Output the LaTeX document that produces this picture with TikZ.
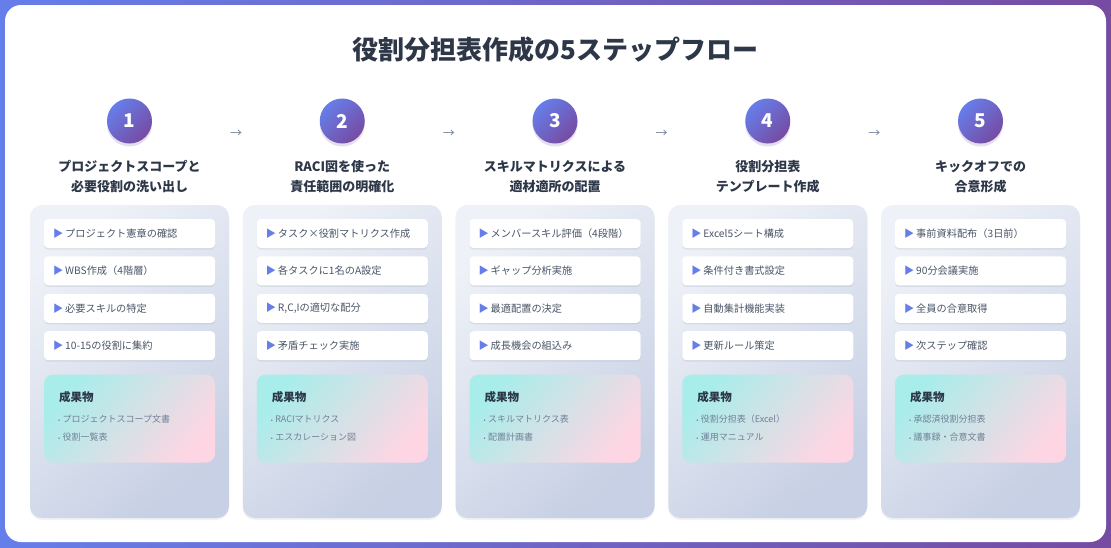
\documentclass[tikz,border=0pt]{standalone}
\usepackage{fontspec}
\setmainfont{Noto Sans CJK JP}
\usetikzlibrary{positioning,shadows}

\definecolor{brandblue}{HTML}{667EEA}
\definecolor{brandpurple}{HTML}{764BA2}
\definecolor{inkdark}{HTML}{2D3748}
\definecolor{inkgray}{HTML}{4A5568}
\definecolor{inklight}{HTML}{718096}
\definecolor{cardtop}{HTML}{EEF1F7}
\definecolor{cardbot}{HTML}{C7D0E4}
\definecolor{mint}{HTML}{A8EDEA}
\definecolor{blush}{HTML}{FED6E3}
\definecolor{shadowgray}{HTML}{A0AEC0}

\tikzset{
  stepball/.style={circle, minimum size=45pt, inner sep=0pt,
    top color=brandblue, bottom color=brandpurple, shading angle=45,
    text=white, font=\bfseries\fontsize{19}{19}\selectfont,
    drop shadow={shadow xshift=0pt, shadow yshift=-3pt, fill=brandpurple, opacity=0.18}},
  steptitle/.style={font=\bfseries\fontsize{13}{20}\selectfont, text=inkdark, align=center},
  stepcard/.style={rounded corners=12pt, minimum width=199pt, minimum height=313pt,
    top color=cardtop, bottom color=cardbot, shading angle=40,
    drop shadow={shadow xshift=0pt, shadow yshift=-2pt, fill=shadowgray, opacity=0.15}},
  taskbox/.style={fill=white, rounded corners=4pt, minimum height=29pt, text width=153pt,
    inner xsep=9pt, align=left, text=inkgray, font=\fontsize{10.2}{12}\selectfont,
    drop shadow={shadow xshift=0pt, shadow yshift=-1.5pt, fill=shadowgray, opacity=0.25}},
  yieldbox/.style={rounded corners=9pt, minimum width=171pt, minimum height=88pt,
    top color=mint, bottom color=blush, shading angle=50},
  yieldhead/.style={anchor=west, inner sep=0pt, text=inkdark, font=\bfseries\fontsize{11.5}{12}\selectfont},
  yielditem/.style={anchor=west, inner sep=0pt, text=inklight, font=\fontsize{9}{10}\selectfont},
  flowarrow/.style={text=inklight, font=\fontsize{12}{12}\selectfont}
}

% one column: number, title, four tasks, two deliverables
\newcommand{\stepcolumn}[8]{%
  \pgfmathsetmacro{\colx}{129.5+212.75*(#1-1)}
  \node[stepball] (ball#1) at (\colx,121) {#1};
  \node[steptitle] (title#1) at (\colx,177) {#2};
  \node[stepcard] (card#1) at (\colx,361.5) {};
  \node[taskbox, below=14pt of card#1.north] (task#1a) {\mbox{\textcolor{brandblue}{▶}\hspace{2pt}#3}};
  \node[taskbox, below=8pt of task#1a] (task#1b) {\mbox{\textcolor{brandblue}{▶}\hspace{2pt}#4}};
  \node[taskbox, below=8pt of task#1b] (task#1c) {\mbox{\textcolor{brandblue}{▶}\hspace{2pt}#5}};
  \node[taskbox, below=8pt of task#1c] (task#1d) {\mbox{\textcolor{brandblue}{▶}\hspace{2pt}#6}};
  \node[yieldbox, below=14pt of task#1d] (yield#1) {};
  \node[yieldhead] (head#1) at ([xshift=15pt,yshift=-23pt]yield#1.north west) {成果物};
  \node[yielditem] (out#1a) at ([xshift=14pt,yshift=-45pt]yield#1.north west) {{\fontsize{6}{6}\selectfont •}\hspace{2.5pt}#7};
  \node[yielditem] (out#1b) at ([xshift=14pt,yshift=-63pt]yield#1.north west) {{\fontsize{6}{6}\selectfont •}\hspace{2.5pt}#8};
}

\begin{document}
\begin{tikzpicture}[x=1pt, y=-1pt]
  \useasboundingbox (0,0) rectangle (1111,547);
  \shade[left color=brandblue, right color=brandpurple] (0,0) rectangle (1111,547);
  \fill[white, rounded corners=16pt] (5,5) rectangle (1106,542);

  \node[text=inkdark, font=\bfseries\fontsize{26}{26}\selectfont] (heading) at (555.5,50) {役割分担表作成の5ステップフロー};

  \stepcolumn{1}{プロジェクトスコープと\\必要役割の洗い出し}
    {プロジェクト憲章の確認}{WBS作成（4階層）}{必要スキルの特定}{10-15の役割に集約}
    {プロジェクトスコープ文書}{役割一覧表}
  \stepcolumn{2}{RACI図を使った\\責任範囲の明確化}
    {タスク×役割マトリクス作成}{各タスクに1名のA設定}{R,C,Iの適切な配分}{矛盾チェック実施}
    {RACIマトリクス}{エスカレーション図}
  \stepcolumn{3}{スキルマトリクスによる\\適材適所の配置}
    {メンバースキル評価（4段階）}{ギャップ分析実施}{最適配置の決定}{成長機会の組込み}
    {スキルマトリクス表}{配置計画書}
  \stepcolumn{4}{役割分担表\\テンプレート作成}
    {Excel5シート構成}{条件付き書式設定}{自動集計機能実装}{更新ルール策定}
    {役割分担表（Excel）}{運用マニュアル}
  \stepcolumn{5}{キックオフでの\\合意形成}
    {事前資料配布（3日前）}{90分会議実施}{全員の合意取得}{次ステップ確認}
    {承認済役割分担表}{議事録・合意文書}

  \foreach \k in {1,...,4}
    \node[flowarrow] (arrow\k) at ({236+212.75*(\k-1)},134) {→};
\end{tikzpicture}
\end{document}
